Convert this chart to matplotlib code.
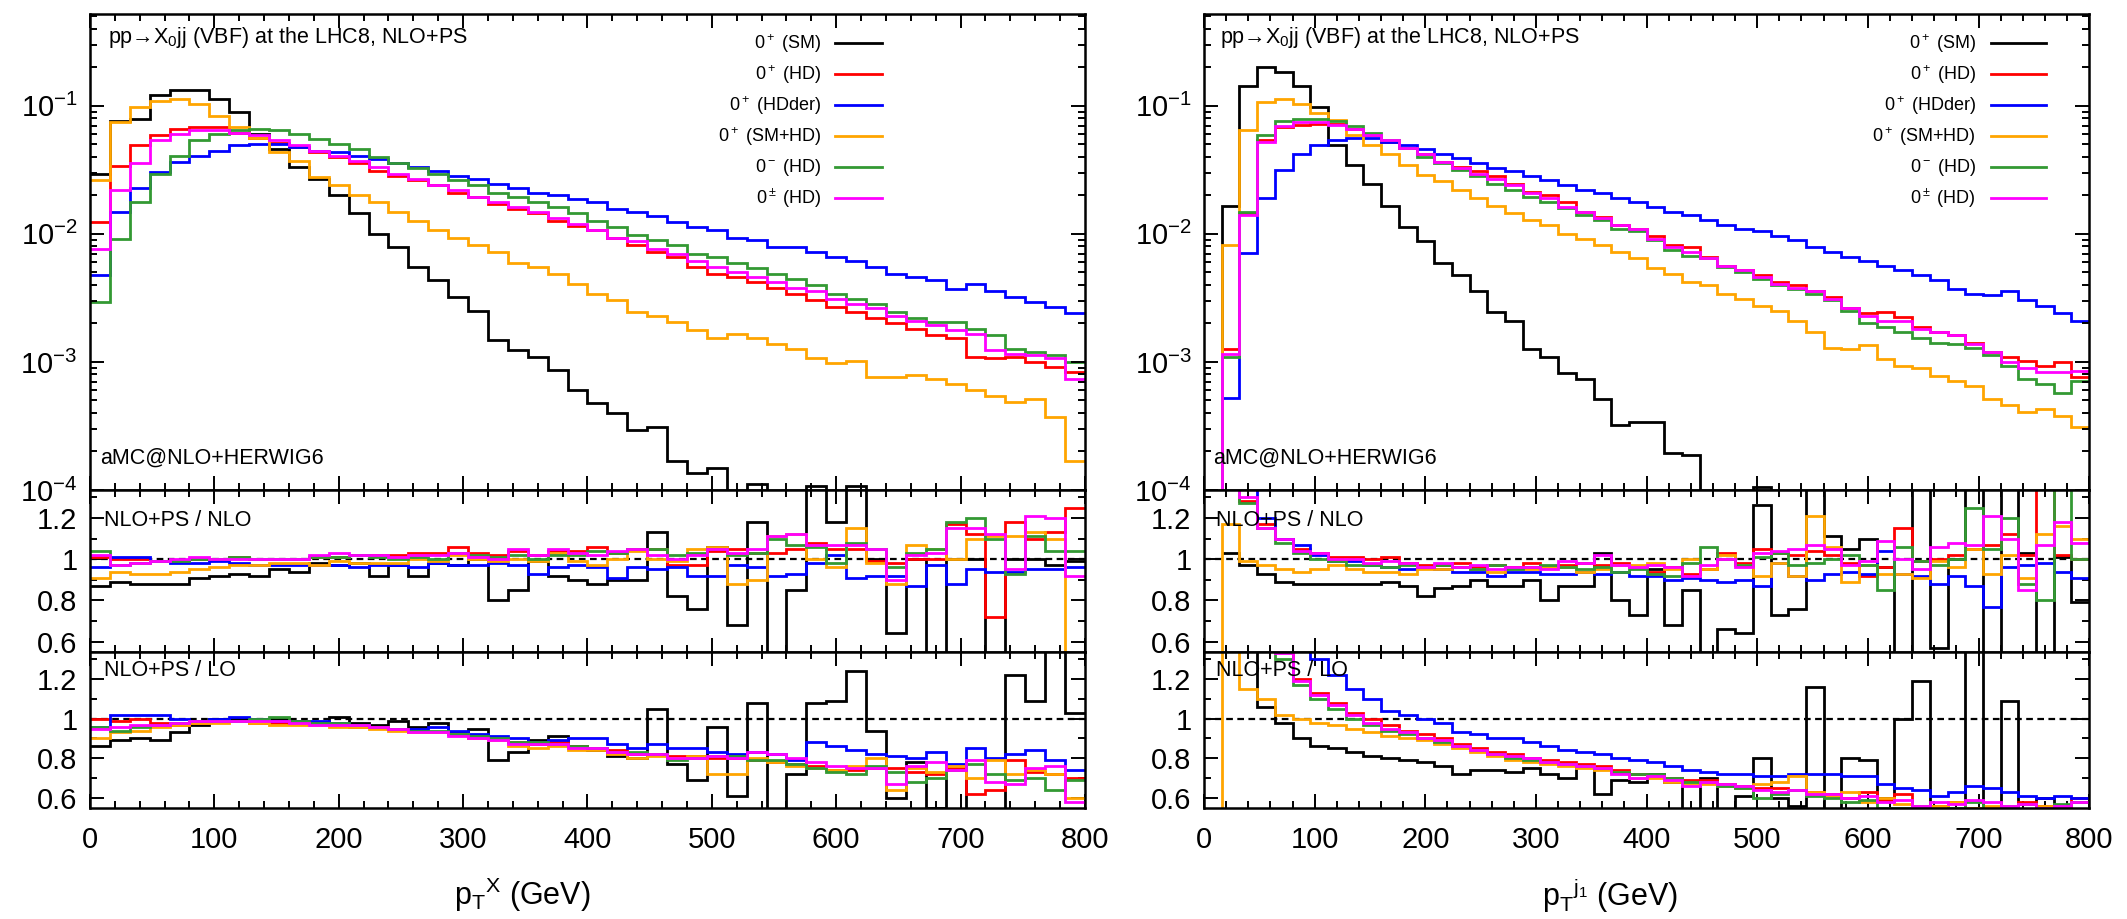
import numpy as np
import matplotlib
matplotlib.use("Agg")
import matplotlib.pyplot as plt
from matplotlib.ticker import MultipleLocator, LogLocator, NullFormatter, FuncFormatter

plt.rcParams["font.family"] = ["Liberation Sans", "DejaVu Sans"]
plt.rcParams["mathtext.fontset"] = "custom"
plt.rcParams["mathtext.rm"] = "Liberation Sans"
plt.rcParams["mathtext.it"] = "Liberation Sans:italic"
plt.rcParams["mathtext.bf"] = "Liberation Sans:bold"

# 50 bins of 16 GeV between 0 and 800 GeV
bin_edges = np.arange(0, 801, 16)

labels = [r"0$^+$ (SM)", r"0$^+$ (HD)", r"0$^+$ (HDder)",
          r"0$^+$ (SM+HD)", r"0$^-$ (HD)", r"0$^\pm$ (HD)"]
colors = ["black", "red", "blue", "orange", "#339933", "magenta"]

# ---------------- pT(X): main panel, log10 of the distribution ----------------
ptx_sm = [-1.53, -1.12, -1.10, -0.92, -0.88, -0.88, -0.95, -1.05, -1.22, -1.34,
          -1.48, -1.57, -1.70, -1.84, -2.00, -2.10, -2.26, -2.36, -2.49, -2.60,
          -2.83, -2.91, -2.96, -3.06, -3.22, -3.32, -3.40, -3.53, -3.51, -3.77,
          -3.87, -3.83, None, -3.95, None, None, -3.97, None, -3.97, None,
          None, None, None, None, None, None, None, None, None, None]
ptx_hd = [-1.91, -1.47, -1.31, -1.23, -1.18, -1.17, -1.17, -1.21, -1.25, -1.29,
          -1.32, -1.36, -1.40, -1.45, -1.51, -1.55, -1.58, -1.62, -1.68, -1.71,
          -1.77, -1.81, -1.84, -1.90, -1.94, -1.97, -2.03, -2.09, -2.14, -2.18,
          -2.26, -2.31, -2.34, -2.38, -2.42, -2.47, -2.52, -2.57, -2.61, -2.66,
          -2.70, -2.74, -2.79, -2.81, -2.96, -2.97, -2.96, -3.00, -3.04, -3.08]
ptx_hdder = [-2.32, -1.83, -1.64, -1.52, -1.44, -1.39, -1.35, -1.31, -1.30, -1.30,
             -1.32, -1.35, -1.36, -1.39, -1.42, -1.45, -1.48, -1.51, -1.55, -1.57,
             -1.61, -1.64, -1.68, -1.70, -1.73, -1.75, -1.81, -1.83, -1.86, -1.91,
             -1.95, -1.97, -2.03, -2.05, -2.10, -2.10, -2.14, -2.18, -2.21, -2.26,
             -2.31, -2.34, -2.36, -2.43, -2.39, -2.45, -2.49, -2.53, -2.57, -2.62]
ptx_smhd = [-1.58, -1.13, -1.01, -0.96, -0.95, -0.99, -1.08, -1.17, -1.25, -1.36,
            -1.43, -1.56, -1.62, -1.70, -1.75, -1.83, -1.90, -1.97, -2.03, -2.09,
            -2.14, -2.23, -2.26, -2.31, -2.39, -2.47, -2.52, -2.61, -2.64, -2.69,
            -2.75, -2.81, -2.78, -2.81, -2.86, -2.90, -2.97, -3.01, -2.99, -3.12,
            -3.12, -3.10, -3.13, -3.17, -3.22, -3.27, -3.31, -3.29, -3.43, -3.77]
ptx_minus = [-2.53, -2.04, -1.75, -1.53, -1.39, -1.27, -1.22, -1.19, -1.18, -1.19,
             -1.22, -1.26, -1.30, -1.34, -1.40, -1.45, -1.49, -1.53, -1.58, -1.62,
             -1.68, -1.71, -1.75, -1.79, -1.84, -1.90, -1.95, -2.01, -2.05, -2.09,
             -2.16, -2.18, -2.23, -2.27, -2.31, -2.35, -2.40, -2.47, -2.51, -2.55,
             -2.61, -2.66, -2.69, -2.69, -2.74, -2.79, -2.90, -2.92, -2.95, -3.00]
ptx_pm = [-2.12, -1.66, -1.45, -1.27, -1.22, -1.19, -1.19, -1.21, -1.23, -1.27,
          -1.31, -1.35, -1.39, -1.43, -1.48, -1.53, -1.57, -1.62, -1.66, -1.71,
          -1.75, -1.79, -1.83, -1.88, -1.92, -1.97, -2.03, -2.06, -2.12, -2.16,
          -2.21, -2.26, -2.30, -2.34, -2.38, -2.42, -2.45, -2.51, -2.55, -2.58,
          -2.64, -2.68, -2.71, -2.75, -2.78, -2.91, -2.94, -2.95, -2.97, -3.13]

# pT(X): NLO+PS / NLO
r1x_sm = [0.87, 0.89, 0.88, 0.88, 0.88, 0.91, 0.92, 0.93, 0.92, 0.95,
          0.94, 0.98, 0.97, 0.98, 0.92, 0.97, 0.92, 0.98, 0.97, 1.00,
          0.80, 0.85, 0.99, 0.92, 0.90, 0.88, 0.90, 0.90, 1.13, 0.82,
          0.76, 1.06, 0.68, 1.18, 0.40, 0.85, 1.50, 1.18, 1.50, 1.00,
          0.64, 1.00, 0.40, 1.00, 1.00, 0.40, 1.00, 1.00, 0.97, 0.99]
r1x_hd = [1.01, 1.00, 1.00, 0.99, 0.99, 1.00, 1.00, 1.01, 1.00, 1.00,
          1.00, 1.01, 1.01, 1.02, 1.02, 1.02, 1.03, 1.03, 1.06, 1.03,
          1.02, 1.04, 1.02, 1.04, 1.04, 1.06, 1.03, 1.05, 1.05, 0.97,
          0.97, 1.04, 1.05, 1.03, 1.03, 1.05, 1.08, 1.05, 1.05, 0.99,
          0.98, 1.00, 1.00, 1.17, 1.12, 0.72, 1.18, 1.10, 1.13, 1.25]
r1x_hdder = [0.96, 1.01, 1.01, 0.99, 0.98, 0.98, 0.99, 0.98, 0.97, 0.97,
             0.97, 0.97, 0.97, 0.96, 0.97, 0.97, 0.96, 0.98, 0.97, 0.97,
             0.98, 0.97, 0.93, 0.96, 0.97, 0.96, 0.91, 0.96, 0.95, 0.96,
             0.92, 0.92, 0.97, 0.96, 0.92, 0.93, 0.98, 1.02, 0.91, 0.92,
             0.92, 0.87, 0.97, 0.88, 0.95, 0.94, 0.94, 0.95, 0.95, 0.96]
r1x_smhd = [0.91, 0.94, 0.93, 0.93, 0.94, 0.95, 0.96, 0.97, 0.97, 0.98,
            0.98, 0.97, 0.99, 0.98, 0.98, 0.98, 1.00, 0.99, 1.02, 1.00,
            0.99, 1.00, 0.99, 1.03, 0.99, 0.97, 1.00, 1.04, 1.00, 0.99,
            1.05, 1.06, 0.88, 0.90, 1.11, 1.12, 1.00, 0.96, 1.15, 0.98,
            0.88, 1.07, 1.05, 1.00, 1.10, 1.11, 1.11, 1.13, 1.10, 0.40]
r1x_minus = [1.04, 0.97, 0.98, 0.99, 0.99, 1.00, 1.00, 1.01, 1.00, 1.00,
             1.00, 1.01, 1.01, 1.02, 1.01, 1.00, 1.01, 1.00, 1.03, 1.02,
             1.01, 1.02, 1.00, 1.02, 1.02, 1.04, 1.03, 1.05, 1.05, 1.02,
             1.03, 1.05, 1.02, 1.03, 1.10, 1.07, 1.06, 0.98, 1.08, 1.05,
             0.96, 1.03, 1.05, 1.18, 1.20, 1.10, 0.93, 1.11, 1.04, 1.04]
r1x_pm = [1.02, 0.97, 0.98, 0.99, 1.00, 1.01, 1.00, 1.00, 1.00, 1.00,
          1.00, 1.02, 1.03, 1.02, 1.02, 1.01, 1.02, 1.02, 1.03, 1.01,
          1.00, 1.05, 1.02, 1.05, 1.03, 1.02, 1.04, 1.05, 1.02, 1.00,
          1.02, 1.05, 1.03, 1.05, 1.11, 1.12, 1.07, 1.07, 1.07, 1.05,
          0.90, 1.02, 1.03, 1.15, 1.15, 1.12, 0.95, 1.21, 1.20, 0.92]

# pT(X): NLO+PS / LO
r2x_sm = [0.86, 0.89, 0.90, 0.89, 0.93, 0.97, 1.00, 1.00, 1.00, 1.00,
          0.99, 0.98, 1.01, 0.98, 0.97, 0.99, 0.96, 0.98, 0.93, 0.95,
          0.79, 0.83, 0.89, 0.91, 0.86, 0.84, 0.81, 0.80, 1.05, 0.77,
          0.69, 0.96, 0.61, 1.08, 0.40, 0.72, 1.08, 1.09, 1.24, 0.94,
          0.60, 0.78, 0.55, 0.75, 0.40, 0.40, 1.22, 1.09, 1.50, 1.03]
r2x_hd = [1.00, 0.99, 1.00, 0.98, 0.97, 0.98, 0.99, 0.99, 0.98, 0.98,
          0.98, 0.98, 0.97, 0.96, 0.96, 0.95, 0.93, 0.93, 0.92, 0.90,
          0.90, 0.88, 0.87, 0.88, 0.86, 0.85, 0.84, 0.82, 0.82, 0.81,
          0.81, 0.80, 0.80, 0.79, 0.78, 0.77, 0.76, 0.74, 0.74, 0.75,
          0.75, 0.73, 0.72, 0.75, 0.62, 0.64, 0.79, 0.73, 0.72, 0.70]
r2x_hdder = [0.96, 1.02, 1.02, 1.02, 1.00, 0.99, 1.00, 1.01, 1.00, 0.99,
             0.99, 0.99, 0.98, 0.97, 0.96, 0.95, 0.95, 0.96, 0.94, 0.92,
             0.91, 0.90, 0.88, 0.89, 0.90, 0.90, 0.87, 0.85, 0.87, 0.85,
             0.85, 0.83, 0.82, 0.83, 0.82, 0.79, 0.88, 0.86, 0.84, 0.82,
             0.81, 0.80, 0.83, 0.77, 0.85, 0.80, 0.82, 0.84, 0.79, 0.74]
r2x_smhd = [0.90, 0.93, 0.94, 0.96, 0.97, 0.98, 0.98, 0.99, 0.98, 0.97,
            0.97, 0.97, 0.96, 0.96, 0.95, 0.94, 0.93, 0.93, 0.92, 0.90,
            0.89, 0.86, 0.85, 0.86, 0.84, 0.84, 0.82, 0.80, 0.81, 0.80,
            0.81, 0.72, 0.72, 0.80, 0.78, 0.76, 0.75, 0.74, 0.76, 0.80,
            0.64, 0.75, 0.73, 0.76, 0.70, 0.79, 0.72, 0.74, 0.72, 0.60]
r2x_minus = [0.96, 0.94, 0.96, 0.97, 0.98, 0.99, 0.99, 0.99, 1.00, 1.01,
             0.99, 0.98, 0.98, 0.97, 0.96, 0.95, 0.94, 0.94, 0.92, 0.91,
             0.90, 0.88, 0.88, 0.87, 0.86, 0.85, 0.83, 0.83, 0.82, 0.79,
             0.80, 0.81, 0.81, 0.79, 0.79, 0.77, 0.75, 0.73, 0.72, 0.76,
             0.73, 0.68, 0.70, 0.74, 0.77, 0.72, 0.69, 0.70, 0.64, 0.69]
r2x_pm = [0.95, 0.96, 0.97, 0.97, 0.98, 0.99, 0.99, 0.99, 0.99, 0.99,
          0.98, 0.97, 0.97, 0.97, 0.96, 0.95, 0.93, 0.93, 0.91, 0.90,
          0.89, 0.87, 0.87, 0.87, 0.85, 0.85, 0.83, 0.82, 0.82, 0.80,
          0.80, 0.81, 0.80, 0.83, 0.82, 0.80, 0.78, 0.76, 0.75, 0.75,
          0.67, 0.76, 0.78, 0.74, 0.79, 0.68, 0.67, 0.75, 0.76, 0.58]

# ---------------- pT(j1): main panel, log10 of the distribution ----------------
ptj_sm = [None, -1.78, -0.85, -0.70, -0.74, -0.85, -1.01, -1.31, -1.46, -1.61,
          -1.78, -1.95, -2.06, -2.23, -2.32, -2.45, -2.61, -2.68, -2.90, -2.96,
          -3.09, -3.13, -3.29, -3.49, -3.47, -3.47, -3.71, -3.73, None, None,
          None, -3.98, None, None, None, None, None, None, None, None,
          None, None, None, None, None, None, None, None, None, None]
ptj_hd = [None, -2.90, -1.84, -1.27, -1.17, -1.15, -1.14, -1.14, -1.18, -1.23,
          -1.28, -1.33, -1.38, -1.44, -1.48, -1.51, -1.55, -1.61, -1.67, -1.70,
          -1.75, -1.83, -1.87, -1.93, -1.96, -2.02, -2.09, -2.10, -2.18, -2.25,
          -2.28, -2.32, -2.38, -2.40, -2.45, -2.49, -2.58, -2.62, -2.61, -2.65,
          -2.73, -2.77, -2.79, -2.85, -2.92, -2.96, -2.99, -3.03, -3.00, -3.12]
ptj_hdder = [None, -3.28, -2.15, -1.72, -1.50, -1.38, -1.31, -1.27, -1.25, -1.25,
             -1.28, -1.31, -1.34, -1.38, -1.41, -1.45, -1.49, -1.51, -1.55, -1.58,
             -1.62, -1.66, -1.68, -1.72, -1.75, -1.79, -1.83, -1.85, -1.89, -1.93,
             -1.96, -1.98, -2.02, -2.05, -2.10, -2.14, -2.18, -2.21, -2.25, -2.28,
             -2.32, -2.36, -2.43, -2.47, -2.48, -2.45, -2.52, -2.56, -2.62, -2.68]
ptj_smhd = [None, -2.09, -1.19, -0.97, -0.95, -0.99, -1.06, -1.11, -1.23, -1.31,
            -1.38, -1.46, -1.54, -1.59, -1.66, -1.72, -1.78, -1.84, -1.89, -1.93,
            -2.00, -2.04, -2.09, -2.14, -2.19, -2.27, -2.31, -2.38, -2.40, -2.47,
            -2.51, -2.56, -2.60, -2.68, -2.77, -2.89, -2.90, -2.87, -2.98, -3.03,
            -3.05, -3.11, -3.15, -3.19, -3.29, -3.34, -3.39, -3.37, -3.42, -3.51]
ptj_minus = [None, -2.96, -1.83, -1.23, -1.12, -1.10, -1.10, -1.12, -1.16, -1.21,
             -1.27, -1.33, -1.40, -1.45, -1.50, -1.55, -1.61, -1.66, -1.71, -1.75,
             -1.80, -1.85, -1.89, -1.96, -1.98, -2.05, -2.13, -2.17, -2.19, -2.26,
             -2.30, -2.35, -2.40, -2.43, -2.47, -2.52, -2.60, -2.70, -2.73, -2.77,
             -2.81, -2.85, -2.86, -2.89, -2.95, -3.03, -3.13, -3.17, -3.24, -3.15]
ptj_pm = [None, -2.94, -1.85, -1.28, -1.16, -1.13, -1.13, -1.15, -1.18, -1.23,
          -1.27, -1.33, -1.38, -1.44, -1.49, -1.53, -1.57, -1.62, -1.68, -1.72,
          -1.79, -1.83, -1.88, -1.93, -1.96, -2.04, -2.10, -2.14, -2.19, -2.25,
          -2.28, -2.34, -2.39, -2.42, -2.45, -2.51, -2.58, -2.64, -2.68, -2.68,
          -2.74, -2.77, -2.79, -2.86, -2.92, -3.00, -3.05, -3.08, -3.08, -3.07]

# pT(j1): NLO+PS / NLO
r1j_sm = [None, 1.03, 0.97, 0.93, 0.89, 0.88, 0.88, 0.88, 0.88, 0.88,
          0.89, 0.87, 0.82, 0.86, 0.87, 0.90, 0.87, 0.87, 0.90, 0.80,
          0.87, 0.87, 1.03, 0.80, 0.73, 0.95, 0.68, 0.85, 0.40, 0.66,
          0.64, 1.26, 0.73, 0.76, 1.50, 1.11, 1.05, 1.10, 0.96, 0.40,
          1.50, 0.57, 1.00, 1.50, 0.40, 1.50, 1.03, 0.40, 1.01, 0.79]
r1j_hd = [None, 1.45, 1.28, 1.17, 1.10, 1.05, 1.03, 1.01, 1.01, 1.00,
          1.01, 0.98, 0.97, 0.97, 0.98, 0.96, 0.97, 0.96, 0.98, 0.96,
          0.97, 0.98, 0.97, 0.98, 0.96, 0.94, 0.96, 0.93, 0.95, 1.03,
          0.98, 1.05, 1.03, 1.02, 1.04, 1.02, 0.98, 0.92, 0.96, 1.15,
          0.99, 1.00, 1.02, 1.05, 1.07, 1.12, 1.02, 1.40, 1.02, 1.00]
r1j_hdder = [None, 1.45, 1.45, 1.20, 1.10, 1.07, 1.02, 0.99, 0.99, 0.97,
             0.96, 0.95, 0.96, 0.95, 0.94, 0.94, 0.92, 0.94, 0.94, 0.93,
             0.93, 0.94, 0.93, 0.94, 0.92, 0.92, 0.90, 0.91, 0.90, 0.89,
             0.90, 0.87, 0.98, 0.92, 0.90, 0.93, 0.94, 0.93, 1.04, 0.93,
             0.92, 0.88, 0.92, 0.87, 0.77, 0.96, 0.97, 0.98, 0.94, 0.91]
r1j_smhd = [0.0, 1.17, 0.99, 0.97, 0.95, 0.94, 0.95, 0.97, 0.95, 0.94,
            0.94, 0.93, 0.95, 0.95, 0.96, 0.95, 0.94, 0.95, 0.95, 0.96,
            0.96, 0.94, 0.95, 0.97, 0.97, 0.98, 0.95, 1.00, 0.95, 1.02,
            0.97, 0.92, 0.98, 0.92, 1.21, 1.06, 0.89, 0.97, 0.93, 0.93,
            0.91, 0.99, 0.96, 1.05, 0.93, 1.02, 0.91, 1.12, 1.16, 1.10]
r1j_minus = [None, 1.45, 1.27, 1.15, 1.08, 1.03, 1.00, 0.99, 0.97, 0.97,
             0.96, 0.97, 0.96, 0.97, 0.96, 0.95, 0.97, 0.95, 0.96, 0.97,
             0.96, 0.95, 0.96, 0.94, 0.95, 0.93, 0.92, 0.98, 1.06, 1.00,
             0.97, 1.01, 1.03, 0.97, 0.98, 1.00, 1.02, 0.97, 0.85, 1.06,
             0.99, 0.97, 1.00, 1.25, 1.05, 1.20, 0.88, 0.80, 1.34, 1.00]
r1j_pm = [None, 1.45, 1.30, 1.15, 1.10, 1.04, 1.03, 1.00, 1.00, 0.98,
          0.99, 0.98, 0.96, 0.98, 0.96, 0.97, 0.95, 0.96, 0.96, 0.95,
          0.99, 0.98, 1.02, 0.97, 0.96, 0.97, 0.96, 0.92, 0.97, 1.00,
          0.96, 1.03, 1.04, 1.05, 1.07, 1.05, 0.97, 0.99, 1.09, 1.00,
          0.95, 1.06, 1.08, 1.07, 1.21, 1.10, 0.85, 1.07, 1.18, 1.08]

# pT(j1): NLO+PS / LO
r2j_sm = [None, 1.50, 1.50, 1.06, 0.98, 0.90, 0.86, 0.85, 0.83, 0.81,
          0.80, 0.79, 0.78, 0.76, 0.72, 0.74, 0.74, 0.73, 0.75, 0.72,
          0.70, 0.76, 0.62, 0.69, 0.68, 0.72, 0.68, 0.40, 0.70, 0.40,
          0.61, 0.80, 0.60, 0.56, 1.16, 0.40, 0.80, 0.79, 0.60, 1.00,
          1.19, 0.40, 0.40, 1.50, 0.50, 1.09, 0.40, 0.60, 0.55, 0.58]
r2j_hd = [None, 1.50, 1.50, 1.50, 1.35, 1.20, 1.13, 1.08, 1.03, 1.00,
          0.97, 0.94, 0.92, 0.90, 0.87, 0.85, 0.83, 0.82, 0.80, 0.79,
          0.78, 0.77, 0.76, 0.74, 0.72, 0.71, 0.70, 0.69, 0.69, 0.67,
          0.66, 0.65, 0.65, 0.64, 0.63, 0.62, 0.60, 0.63, 0.59, 0.62,
          0.56, 0.56, 0.58, 0.55, 0.55, 0.53, 0.58, 0.56, 0.52, 0.60]
r2j_hdder = [None, 1.50, 1.50, 1.50, 1.50, 1.50, 1.30, 1.22, 1.15, 1.10,
             1.04, 1.02, 1.00, 0.98, 0.93, 0.92, 0.90, 0.90, 0.88, 0.86,
             0.84, 0.83, 0.82, 0.80, 0.79, 0.78, 0.76, 0.74, 0.73, 0.72,
             0.72, 0.71, 0.71, 0.72, 0.72, 0.72, 0.71, 0.71, 0.67, 0.65,
             0.64, 0.61, 0.63, 0.66, 0.65, 0.63, 0.61, 0.60, 0.61, 0.60]
r2j_smhd = [0.0, 1.50, 1.15, 1.10, 1.02, 1.00, 0.98, 0.97, 0.95, 0.93,
            0.91, 0.90, 0.89, 0.87, 0.85, 0.83, 0.81, 0.79, 0.78, 0.77,
            0.76, 0.75, 0.74, 0.73, 0.70, 0.70, 0.68, 0.67, 0.67, 0.66,
            0.65, 0.67, 0.68, 0.71, 0.63, 0.61, 0.63, 0.58, 0.60, 0.57,
            0.56, 0.56, 0.58, 0.55, 0.56, 0.54, 0.54, 0.56, 0.55, 0.54]
r2j_minus = [None, 1.50, 1.50, 1.50, 1.30, 1.17, 1.10, 1.05, 1.00, 0.97,
             0.94, 0.92, 0.90, 0.88, 0.86, 0.84, 0.82, 0.80, 0.79, 0.78,
             0.77, 0.76, 0.75, 0.73, 0.72, 0.72, 0.70, 0.68, 0.68, 0.66,
             0.65, 0.60, 0.62, 0.64, 0.61, 0.60, 0.58, 0.59, 0.55, 0.55,
             0.56, 0.53, 0.55, 0.58, 0.53, 0.56, 0.57, 0.55, 0.57, 0.58]
r2j_pm = [None, 1.50, 1.50, 1.50, 1.33, 1.19, 1.12, 1.07, 1.02, 0.98,
          0.95, 0.93, 0.90, 0.89, 0.86, 0.84, 0.82, 0.81, 0.80, 0.78,
          0.77, 0.76, 0.75, 0.72, 0.70, 0.71, 0.69, 0.66, 0.68, 0.67,
          0.66, 0.64, 0.63, 0.64, 0.62, 0.62, 0.60, 0.61, 0.58, 0.59,
          0.56, 0.58, 0.57, 0.59, 0.58, 0.56, 0.57, 0.55, 0.56, 0.58]


def dist(logs):
    a = 10.0 ** np.array(logs, dtype=float)
    return np.nan_to_num(a, nan=0.0)


def style(ax, labelx=False):
    ax.set_xlim(0, 800)
    ax.xaxis.set_major_locator(MultipleLocator(100))
    ax.xaxis.set_minor_locator(MultipleLocator(20))
    ax.tick_params(which="both", direction="in", top=True, right=True,
                   width=1.4, labelsize=21, pad=9)
    ax.tick_params(which="major", length=10)
    ax.tick_params(which="minor", length=5)
    ax.tick_params(axis="x", pad=13)
    if not labelx:
        ax.tick_params(axis="x", labelbottom=False)
    for s in ax.spines.values():
        s.set_linewidth(1.8)


fig = plt.figure(figsize=(21.27, 9.19), dpi=100)

columns = [
    dict(x0=0.0423, w=0.4678,
         main=[ptx_sm, ptx_hd, ptx_hdder, ptx_smhd, ptx_minus, ptx_pm],
         r1=[r1x_sm, r1x_hd, r1x_hdder, r1x_smhd, r1x_minus, r1x_pm],
         r2=[r2x_sm, r2x_hd, r2x_hdder, r2x_smhd, r2x_minus, r2x_pm],
         xlabel=r"p$_\mathregular{T}$$^\mathregular{X}$ (GeV)", xl=0.2455,
         lt=0.735, l0=0.749, l1=0.796),
    dict(x0=0.5661, w=0.4161,
         main=[ptj_sm, ptj_hd, ptj_hdder, ptj_smhd, ptj_minus, ptj_pm],
         r1=[r1j_sm, r1j_hd, r1j_hdder, r1j_smhd, r1j_minus, r1j_pm],
         r2=[r2j_sm, r2j_hd, r2j_hdder, r2j_smhd, r2j_minus, r2j_pm],
         xlabel=r"p$_\mathregular{T}$$^{\mathregular{j}_\mathregular{1}}$ (GeV)", xl=0.757,
         lt=0.872, l0=0.889, l1=0.951),
]

for col in columns:
    ax = fig.add_axes([col["x0"], 0.4668, col["w"], 0.5180])
    axr1 = fig.add_axes([col["x0"], 0.2905, col["w"], 0.1763])
    axr2 = fig.add_axes([col["x0"], 0.1208, col["w"], 0.1697])

    # main distribution
    ax.set_yscale("log")
    for vals, c in zip(col["main"], colors):
        ax.stairs(dist(vals), bin_edges, color=c, lw=2.0, baseline=None)
    ax.set_ylim(1e-4, 0.52)
    ax.yaxis.set_major_locator(LogLocator(base=10, numticks=10))
    ax.yaxis.set_minor_locator(LogLocator(base=10, subs=np.arange(2, 10), numticks=10))
    ax.yaxis.set_minor_formatter(NullFormatter())
    style(ax)
    ax.text(0.018, 0.95, "pp→X$_0$jj (VBF) at the LHC8, NLO+PS", fontsize=15.5,
            va="center", ha="left", transform=ax.transAxes)
    ax.text(0.01, 0.067, "aMC@NLO+HERWIG6", fontsize=15.5,
            va="center", ha="left", transform=ax.transAxes)
    for k, (lab, c) in enumerate(zip(labels, colors)):
        yy = 0.938 - 0.065 * k
        ax.text(col["lt"], yy, lab, ha="right", va="center", fontsize=13,
                transform=ax.transAxes)
        ax.plot([col["l0"], col["l1"]], [yy, yy], color=c, lw=2.0,
                transform=ax.transAxes)

    # ratio panels
    for axr, key, txt, ty in [(axr1, "r1", "NLO+PS / NLO", 0.81),
                              (axr2, "r2", "NLO+PS / LO", 0.88)]:
        axr.axhline(1.0, color="black", lw=1.6, ls=(0, (3, 2)), zorder=1)
        for vals, c in zip(col[key], colors):
            axr.stairs(np.array(vals, dtype=float), bin_edges, color=c, lw=2.0,
                       baseline=None, zorder=2)
        axr.set_ylim(0.55, 1.335)
        axr.yaxis.set_major_locator(MultipleLocator(0.2))
        axr.yaxis.set_minor_locator(MultipleLocator(0.1))
        axr.yaxis.set_major_formatter(FuncFormatter(lambda v, p: "%g" % round(v, 2)))
        style(axr, labelx=(key == "r2"))
        axr.text(0.014, ty, txt, fontsize=15.5, va="center", ha="left",
                 transform=axr.transAxes, zorder=5)

    fig.text(col["xl"], 0.026, col["xlabel"], fontsize=22, ha="center", va="center")

fig.savefig("out.png", dpi=100)
